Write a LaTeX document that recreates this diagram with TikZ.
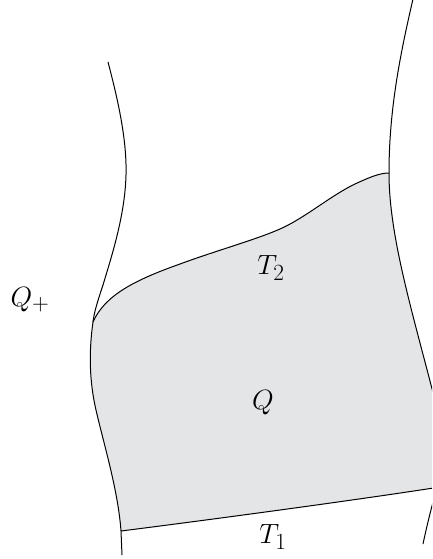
\documentclass[tikz,border=0pt]{standalone}
\begin{document}
\begin{tikzpicture}[x=1pt,y=-1pt,
  curve/.style={line width=1pt, black},
  lbl/.style={font=\Huge, scale=1.12, inner sep=0pt}]
\useasboundingbox (0,0) rectangle (432,559);
\definecolor{regiongray}{RGB}{228,229,231}
\clip (0,0) rectangle (432,559);
\coordinate (J) at (93,322);
\coordinate (R) at (389,173);
\coordinate (B) at (121,531);
% shaded region Q
\fill[regiongray]
  (J) .. controls (105,295) and (135,280) .. (180,264)
      .. controls (215,251) and (255,240) .. (280,229)
      .. controls (305,218) and (330,196) .. (355,184)
      .. controls (370,177) and (380,173) .. (R)
      .. controls (389,240) and (415,320) .. (440,420)
  -- (440,487)
      .. controls (350,501) and (200,521) .. (B)
      .. controls (118,490) and (104,445) .. (96,410)
      .. controls (89,380) and (89,350) .. (J) -- cycle;
% left curve
\draw[curve] (108,62) .. controls (118,100) and (127,140) .. (126,175)
      .. controls (125,215) and (112,255) .. (103,285)
      .. controls (97,303) and (94,313) .. (J)
      .. controls (89,350) and (89,380) .. (96,410)
      .. controls (104,445) and (118,490) .. (B) -- (122,555);
% top curve T2
\draw[curve] (J) .. controls (105,295) and (135,280) .. (180,264)
      .. controls (215,251) and (255,240) .. (280,229)
      .. controls (305,218) and (330,196) .. (355,184)
      .. controls (370,177) and (380,173) .. (R);
% right curve
\draw[curve] (413,-1) .. controls (400,55) and (389,110) .. (R)
      .. controls (389,240) and (415,320) .. (440,420);
\coordinate (L1) at (436.5,490);
\coordinate (L2) at (423,544);
\draw[curve] (L1) .. controls (432,505) and (427,525) .. (L2);
% bottom T1
\draw[curve] (B) .. controls (200,521) and (350,501) .. (440,487);
% labels
\node[lbl] (qplus) at (30,300) {$Q_+$};
\node[lbl] (t2) at (271,268) {$T_2$};
\node[lbl] (q) at (263,403) {$Q$};
\node[lbl] (t1) at (273,537) {$T_1$};
\end{tikzpicture}
\end{document}
